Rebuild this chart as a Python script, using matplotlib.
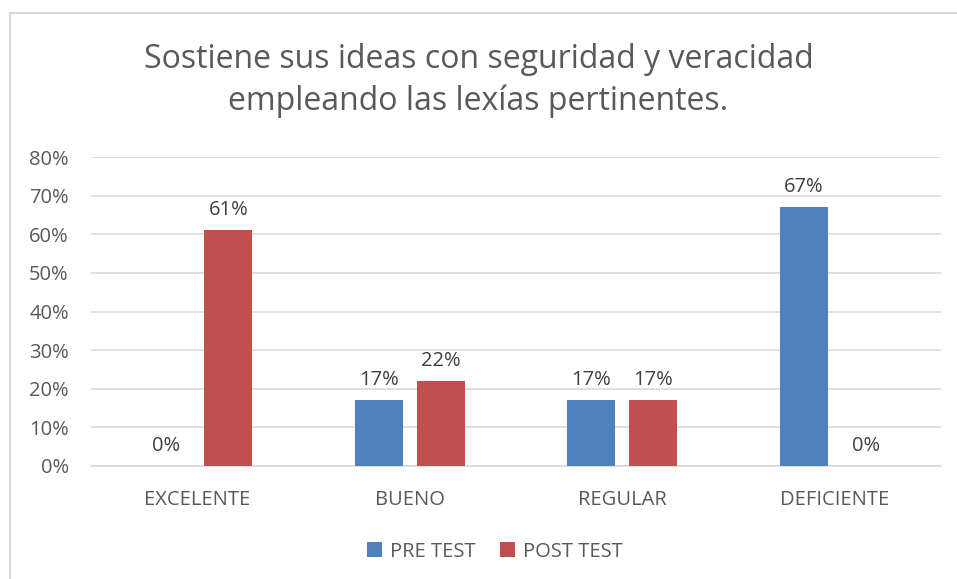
import matplotlib.pyplot as plt
import numpy as np

categories = ["EXCELENTE", "BUENO", "REGULAR", "DEFICIENTE"]
pre_test = [0, 17, 17, 67]
post_test = [61, 22, 17, 0]
series_names = ["PRE TEST", "POST TEST"]
title = "Sostiene sus ideas con seguridad y veracidad\nempleando las lexías pertinentes."

plt.rcParams['font.family'] = ['Open Sans', 'DejaVu Sans']
blue = '#4F81BD'
red = '#C0504D'
txt = '#595959'
fs = 14.5

fig = plt.figure(figsize=(9.57, 5.79), dpi=100)
ax = fig.add_axes([0.0951, 0.1952, 0.888, 0.5336])

x = np.arange(len(categories))
w = 0.226
off = 0.146
b1 = ax.bar(x - off, pre_test, w, color=blue, label=series_names[0], zorder=3)
b2 = ax.bar(x + off, post_test, w, color=red, label=series_names[1], zorder=3)

for bars, vals in [(b1, pre_test), (b2, post_test)]:
    for rect, v in zip(bars, vals):
        ax.text(rect.get_x() + rect.get_width() / 2, v + 2.6, "%d%%" % v,
                ha='center', va='bottom', fontsize=fs, color='#404040')

ax.set_xlim(-0.5, 3.5)
ax.set_ylim(0, 80)
ax.set_yticks(np.arange(0, 81, 10))
ax.set_yticklabels(["%d%%" % t for t in range(0, 81, 10)])
ax.set_xticks(x)
ax.set_xticklabels(categories)
ax.tick_params(axis='both', length=0, labelsize=fs, colors=txt)
ax.tick_params(axis='y', pad=16)
ax.tick_params(axis='x', pad=17)
ax.grid(axis='y', color='#D9D9D9', lw=1.2, zorder=0)
for s in ['top', 'right', 'left']:
    ax.spines[s].set_visible(False)
ax.spines['bottom'].set_color('#D9D9D9')
ax.spines['bottom'].set_linewidth(1.2)

fig.text(0.5, 0.861, title, ha='center', va='center', fontsize=23,
         color=txt, linespacing=1.3)

fig.legend(loc='center', bbox_to_anchor=(0.517, 0.047), ncol=2, frameon=False,
           fontsize=fs, labelcolor=txt, handlelength=0.75, handleheight=0.75,
           handletextpad=0.4, columnspacing=1.2)

# chart border (partly cut off in the original)
fig.add_artist(plt.Line2D([10 / 957, 10 / 957], [0, 1 - 13 / 579], color='#D9D9D9', lw=1.5,
                          transform=fig.transFigure))
fig.add_artist(plt.Line2D([10 / 957, 1], [1 - 13 / 579, 1 - 13 / 579], color='#D9D9D9', lw=1.5,
                          transform=fig.transFigure))

plt.savefig("out.png", dpi=100)
